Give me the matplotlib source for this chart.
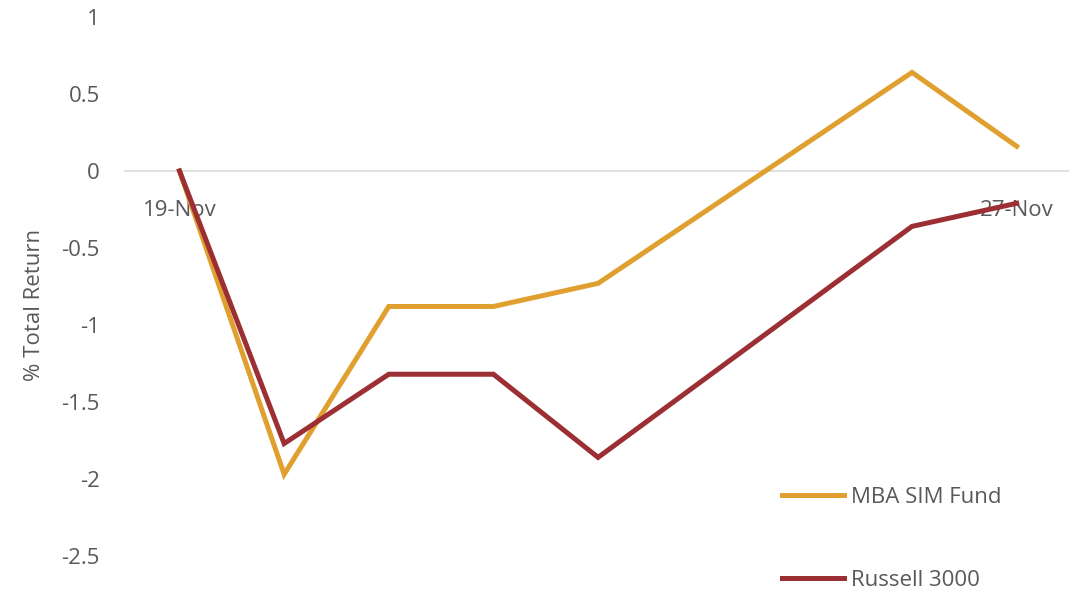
import numpy as np
import pandas as pd
import matplotlib
matplotlib.use("Agg")
import matplotlib.pyplot as plt
import matplotlib.dates as mdates

plt.rcParams['font.family'] = ['Open Sans', 'DejaVu Sans']

dates = pd.to_datetime(["2018-11-19", "2018-11-20", "2018-11-21", "2018-11-22",
                        "2018-11-23", "2018-11-26", "2018-11-27"])
mba_sim_fund = [0.0, -1.97, -0.88, -0.88, -0.73, 0.64, 0.16]
russell_3000 = [0.0, -1.77, -1.32, -1.32, -1.86, -0.36, -0.21]
tick_dates = pd.to_datetime(["2018-11-19", "2018-11-27"])

text_color = "#595959"

fig = plt.figure(figsize=(10.69, 5.92), dpi=100)
ax = fig.add_axes([125 / 1069, 0.0, 1 - 125 / 1069, 1.0])

ax.plot(dates, mba_sim_fund, color="#E0A030", lw=3.6, label="MBA SIM Fund",
        solid_joinstyle="miter", zorder=3)
ax.plot(dates, russell_3000, color="#9C2F33", lw=3.6, label="Russell 3000",
        solid_joinstyle="miter", zorder=3)

ax.set_xlim(pd.Timestamp("2018-11-18 11:30"), pd.Timestamp("2018-11-27 12:00"))
ax.set_ylim(-2.734, 1.11)
ax.set_yticks([1, 0.5, 0, -0.5, -1, -1.5, -2, -2.5])
ax.set_yticklabels(["1", "0.5", "0", "-0.5", "-1", "-1.5", "-2", "-2.5"])

ax.set_xticks(tick_dates)
ax.xaxis.set_major_formatter(mdates.DateFormatter("%d-%b"))

for side in ["top", "right", "left"]:
    ax.spines[side].set_visible(False)
ax.spines["bottom"].set_position(("data", 0))
ax.spines["bottom"].set_color("#D9D9D9")
ax.spines["bottom"].set_linewidth(1.2)
ax.spines["bottom"].set_zorder(1)

ax.tick_params(axis="y", length=0, pad=18, labelsize=16, labelcolor=text_color)
ax.tick_params(axis="x", length=0, pad=21, labelsize=16, labelcolor=text_color)

fig.text(35 / 1069, 1 - 305 / 592, "% Total Return", rotation=90, ha="center",
         va="center", fontsize=16, color=text_color)

leg = fig.legend(loc="upper left", bbox_to_anchor=(762 / 1069, 1 - 467 / 592),
                 frameon=False, handlelength=2.8, handletextpad=0.3,
                 labelspacing=2.8, fontsize=16, labelcolor=text_color)

fig.savefig("out.png", dpi=100)
